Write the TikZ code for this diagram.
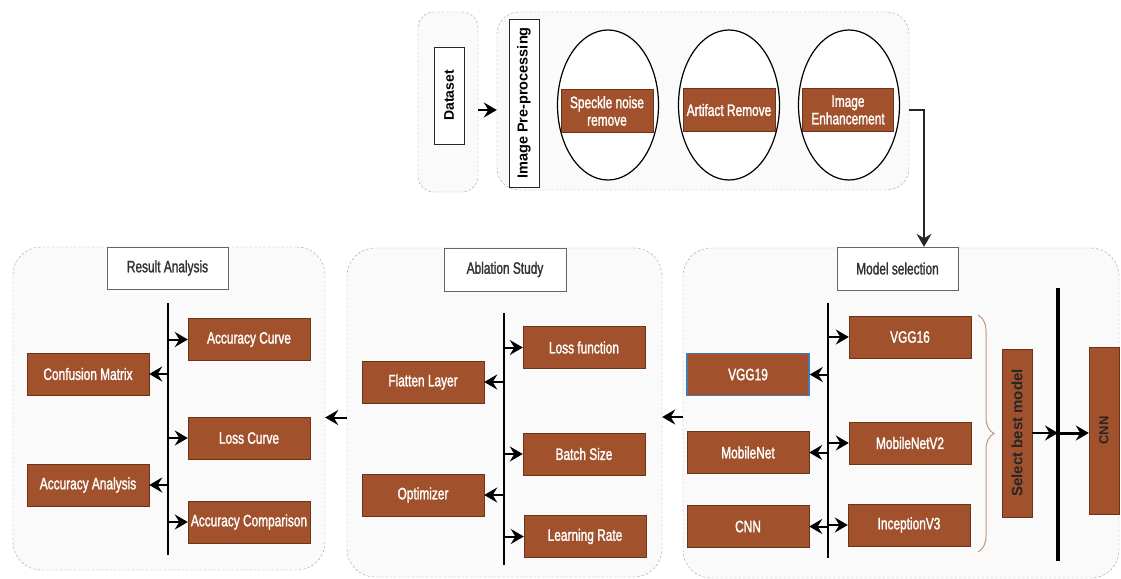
\documentclass[tikz,border=0pt]{standalone}
\usepackage{fontspec}
\setmainfont{Liberation Sans}
\newfontfamily\narrowfont{Liberation Sans}[FakeStretch=0.72, FakeBold=1.5]
\usetikzlibrary{shapes.geometric,arrows.meta,decorations.pathreplacing}

\definecolor{boxbrown}{RGB}{161,82,45}
\definecolor{boxedge}{RGB}{110,52,25}
\definecolor{bracebrown}{RGB}{196,150,120}
\definecolor{vggblue}{RGB}{70,120,180}

\tikzset{
  panel/.style={draw=gray!75, dash pattern=on 2.5pt off 2pt, fill=gray!4, rounded corners=#1},
  panel/.default=28pt,
  stagebox/.style={draw=gray!80!black, fill=white, text=black!80, inner sep=0,
    font=\narrowfont\fontsize{16.5}{18}\selectfont},
  block/.style={draw=boxedge, fill=boxbrown, text=white, align=center, inner sep=0,
    minimum width=122, minimum height=42, font=\narrowfont\fontsize{16.5}{17.5}\selectfont},
  tagbox/.style={draw=black!85, fill=white, rotate=90, inner sep=0, font=\bfseries},
  arr/.style={-{Stealth[length=13pt,width=15pt,inset=4.5pt]}, line width=2pt},
  bus/.style={line width=2pt},
}

\begin{document}
\begin{tikzpicture}[x=1pt, y=-1pt]
  \useasboundingbox (0,0) rectangle (1121,578);

  % Dataset and pre-processing
  \node[panel=16pt, minimum width=60, minimum height=180] (ds) at (448,102) {};
  \node[tagbox, minimum width=97, minimum height=30, font=\bfseries\fontsize{14}{14}\selectfont] (dslbl) at (449,95.5) {Dataset};
  \node[panel=22pt, minimum width=412, minimum height=178] (pre) at (703,101) {};
  \node[tagbox, minimum width=168, minimum height=30, font=\bfseries\fontsize{14.5}{14.5}\selectfont] (prelbl) at (524,103) {Image Pre-processing};
  \foreach \x/\name in {608/e1, 729/e2, 849/e3} {
    \node[ellipse, draw=black, fill=white, line width=1.2pt, inner sep=0,
      minimum width=101, minimum height=150] (\name) at (\x,105) {};
  }
  \node[block, minimum width=92, minimum height=43] (speck) at (607,111) {Speckle noise\\remove};
  \node[block, minimum width=92, minimum height=43] (artif) at (729,110) {Artifact Remove};
  \node[block, minimum width=91, minimum height=43] (enh) at (848,110) {Image\\Enhancement};

  % Model selection
  \node[panel, minimum width=436, minimum height=330] (msel) at (901,413) {};
  \node[stagebox, minimum width=121, minimum height=43] (mseltitle) at (897.5,268.5) {Model selection};
  \coordinate (mtop) at (828,303);
  \coordinate (mbot) at (828,558);
  \draw[bus] (mtop) -- (mbot);
  \node[block] (vgg16) at (910,337) {VGG16};
  \node[block, draw=vggblue, line width=1.5pt] (vgg19) at (748,374.5) {VGG19};
  \node[block] (mnv2) at (910,443) {MobileNetV2};
  \node[block] (mnet) at (748,452.5) {MobileNet};
  \node[block] (incv3) at (909,525) {InceptionV3};
  \node[block] (cnnl) at (748,526.5) {CNN};
  \foreach \b in {vgg16, mnv2, incv3} {
    \draw[arr] (mtop |- \b.west) -- (\b.west);
  }
  \foreach \b in {vgg19, mnet, cnnl} {
    \draw[arr] (mtop |- \b.east) -- (\b.east);
  }
  \draw[bracebrown, line width=1pt, decorate, decoration={brace, amplitude=16pt, aspect=0.5}]
    (978,315) -- (978,552);
  \node[block, rotate=90, minimum width=168, minimum height=30,
    font=\bfseries\fontsize{15}{15}\selectfont, text=black!85] (best) at (1017,433) {Select best model};
  \coordinate (ctop) at (1058,288);
  \coordinate (cbot) at (1058,561);
  \draw[line width=3.5pt] (ctop) -- (cbot);
  \node[block, rotate=90, minimum width=167, minimum height=30,
    font=\bfseries\fontsize{13}{13}\selectfont, text=black!85] (cnnr) at (1104,430.5) {CNN};
  \draw[arr] (best.south) -- (best.south -| ctop);
  \draw[arr, line width=3pt] (ctop |- best.south) -- (ctop |- best.south -| cnnr.north);

  % Ablation study
  \node[panel, minimum width=315, minimum height=329] (abl) at (504.5,412.5) {};
  \node[stagebox, minimum width=122, minimum height=43] (abltitle) at (505,269.5) {Ablation Study};
  \coordinate (atop) at (504,313);
  \coordinate (abot) at (504,565);
  \draw[bus] (atop) -- (abot);
  \node[block] (lossf) at (584,347.5) {Loss function};
  \node[block] (flat) at (423,382) {Flatten Layer};
  \node[block] (batch) at (584,454) {Batch Size};
  \node[block] (optim) at (423,495) {Optimizer};
  \node[block] (lrate) at (585,536.5) {Learning Rate};
  \foreach \b in {lossf, batch, lrate} {
    \draw[arr] (atop |- \b.west) -- (\b.west);
  }
  \foreach \b in {flat, optim} {
    \draw[arr] (atop |- \b.east) -- (\b.east);
  }

  % Result analysis
  \node[panel, minimum width=312, minimum height=323] (res) at (169,408.5) {};
  \node[stagebox, minimum width=121, minimum height=42] (restitle) at (167.5,268) {Result Analysis};
  \coordinate (rtop) at (168,303);
  \coordinate (rbot) at (168,555);
  \draw[bus] (rtop) -- (rbot);
  \node[block] (acccurve) at (249,339.5) {Accuracy Curve};
  \node[block] (confm) at (88,374) {Confusion Matrix};
  \node[block] (losscurve) at (249,438) {Loss Curve};
  \node[block] (accan) at (88,485) {Accuracy Analysis};
  \node[block] (acccomp) at (249,522) {Accuracy Comparison};
  \foreach \b in {acccurve, losscurve, acccomp} {
    \draw[arr] (rtop |- \b.west) -- (\b.west);
  }
  \foreach \b in {confm, accan} {
    \draw[arr] (rtop |- \b.east) -- (\b.east);
  }

  % Flow between stages
  \draw[arr] ([yshift=-8pt]ds.east) -- ([yshift=-8pt]ds.east -| pre.west);
  \draw[arr, line width=1.6pt, black!85] ([yshift=-9pt]pre.east) -| ([xshift=23pt]mseltitle.north -| msel.north);
  \draw[arr] ([yshift=-4pt]msel.west) -- ([yshift=-4pt]msel.west -| abl.east);
  \draw[arr] ([yshift=-5pt]abl.west) -- ([yshift=-5pt]abl.west -| res.east);
\end{tikzpicture}
\end{document}
